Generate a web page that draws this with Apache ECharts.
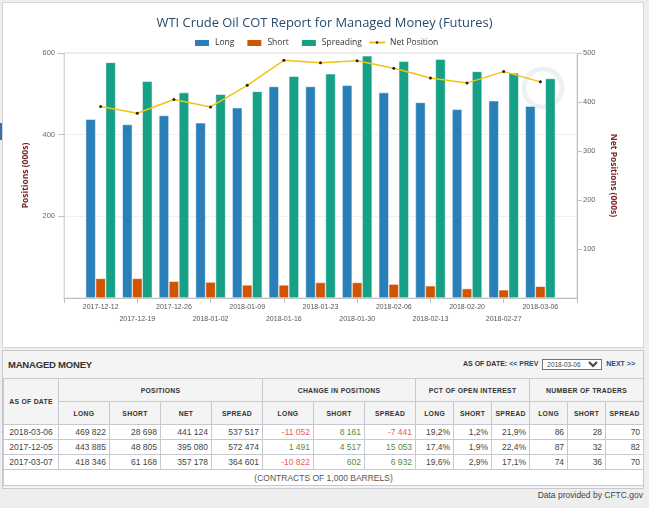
<!DOCTYPE html>
<html>
<head>
<meta charset="utf-8">
<script src="https://cdn.jsdelivr.net/npm/echarts@6/dist/echarts.min.js"></script>
<style>
  html, body { margin: 0; padding: 0; background: #eeeeee; width: 649px; height: 508px; overflow: hidden; font-family: "Liberation Sans", Arial, sans-serif; }
  .panel { position: absolute; left: 2px; top: 2px; width: 640px; height: 344px; background: #fff; border: 1px solid #d6d6d6; }
  #chart { position: absolute; left: 0; top: 0; width: 649px; height: 348px; }
  .tick { position: absolute; left: 0; top: 123px; width: 2px; height: 17px; background: #3a6ea5; }
  .mm { position: absolute; left: 2px; top: 350px; width: 640px; height: 137px; background: #f4f4f4; border: 1px solid #c8c8d0; }
  .mm-head { height: 27px; position: relative; }
  .mm-title { position: absolute; left: 5px; top: 8px; font-size: 9.5px; font-weight: bold; color: #333; letter-spacing: -0.2px; }
  .mm-nav { position: absolute; right: 8px; top: 8px; font-size: 7px; font-weight: bold; color: #2a4a7a; }
  .mm-nav .lbl { color: #333; }
  .mm-nav select { font-size: 6.5px; height: 11px; width: 60px; padding: 0; margin: 0 2px; vertical-align: middle; font-family: "Liberation Sans", Arial, sans-serif; color: #444; background: #fff; }
  table { border-collapse: collapse; width: 640px; table-layout: fixed; background: #fff; }
  td, th { border: 1px solid #c8c8d0; padding: 0 3px; font-size: 8.5px; color: #444; white-space: nowrap; }
  th { background: #f4f4f4; font-size: 6.8px; font-weight: bold; color: #333; letter-spacing: 0.3px; height: 22px; text-align: center; }
  td { height: 14px; text-align: right; }
  td.date { text-align: center; }
  td.neg { color: #f05a5a; }
  td.pos { color: #5b8a3c; }
  td.foot { text-align: center; color: #555; font-size: 8.5px; height: 15px; }
  .credit { position: absolute; right: 6px; top: 490px; font-size: 8.5px; color: #444; }
</style>
</head>
<body>
<div class="panel"></div>
<div class="tick"></div>
<div id="chart"></div>

<div class="mm">
  <div class="mm-head">
    <div class="mm-title">MANAGED MONEY</div>
    <div class="mm-nav"><span class="lbl">AS OF DATE:</span> &lt;&lt; PREV <select><option>2018-03-06</option></select> NEXT &gt;&gt;</div>
  </div>
  <table id="tbl">
    <colgroup>
      <col style="width:55px">
      <col style="width:51px"><col style="width:51px"><col style="width:51px"><col style="width:51px">
      <col style="width:51px"><col style="width:51px"><col style="width:51px">
      <col style="width:38px"><col style="width:38px"><col style="width:38px">
      <col style="width:38px"><col style="width:38px"><col style="width:38px">
    </colgroup>
    <thead>
      <tr>
        <th rowspan="2">AS OF DATE</th>
        <th colspan="4">POSITIONS</th>
        <th colspan="3">CHANGE IN POSITIONS</th>
        <th colspan="3">PCT OF OPEN INTEREST</th>
        <th colspan="3">NUMBER OF TRADERS</th>
      </tr>
      <tr id="subhead"></tr>
    </thead>
    <tbody id="tbody"></tbody>
  </table>
</div>
<div class="credit">Data provided by CFTC.gov</div>

<script>
// 图表数据 (千份合约)
var dates = ["2017-12-12", "2017-12-19", "2017-12-26", "2018-01-02", "2018-01-09", "2018-01-16", "2018-01-23",
             "2018-01-30", "2018-02-06", "2018-02-13", "2018-02-20", "2018-02-27", "2018-03-06"];
var longPos   = [438, 425, 447, 429, 466, 518, 518, 521, 503, 479, 462, 483, 469.8];
var shortPos  = [48, 48, 41, 39, 32, 32, 38, 38, 34, 30, 23, 20, 28.7];
var spreadPos = [577, 531, 503, 499, 506, 543, 549, 593, 580, 585, 555, 551, 537.5];
var netPos    = [391, 377, 405, 390, 434, 485, 480, 484, 469, 449, 439, 462, 441.1];

// 表格数据
var subHeads = ["LONG", "SHORT", "NET", "SPREAD", "LONG", "SHORT", "SPREAD", "LONG", "SHORT", "SPREAD", "LONG", "SHORT", "SPREAD"];
var tableDates = ["2018-03-06", "2017-12-05", "2017-03-07"];
var tablePositions = [
  ["469 822", "28 698", "441 124", "537 517"],
  ["443 885", "48 805", "395 080", "572 474"],
  ["418 346", "61 168", "357 178", "364 601"]
];
var tableChanges = [
  ["-11 052", "8 161", "-7 441"],
  ["1 491", "4 517", "15 053"],
  ["-10 822", "602", "6 932"]
];
var tablePct = [
  ["19,2%", "1,2%", "21,9%"],
  ["17,4%", "1,9%", "22,4%"],
  ["19,6%", "2,9%", "17,1%"]
];
var tableTraders = [
  ["86", "28", "70"],
  ["87", "32", "82"],
  ["74", "36", "70"]
];

// 1. 表格
var sub = document.getElementById("subhead");
subHeads.forEach(function (h) {
  var th = document.createElement("th");
  th.textContent = h;
  sub.appendChild(th);
});
var tbody = document.getElementById("tbody");
tableDates.forEach(function (d, r) {
  var html = '<td class="date">' + d + '</td>';
  tablePositions[r].forEach(function (v) { html += '<td>' + v + '</td>'; });
  tableChanges[r].forEach(function (v) {
    html += '<td class="' + (v.charAt(0) === "-" ? "neg" : "pos") + '">' + v + '</td>';
  });
  tablePct[r].forEach(function (v) { html += '<td>' + v + '</td>'; });
  tableTraders[r].forEach(function (v) { html += '<td>' + v + '</td>'; });
  var tr = document.createElement("tr");
  tr.innerHTML = html;
  tbody.appendChild(tr);
});
var ftr = document.createElement("tr");
ftr.innerHTML = '<td class="foot" colspan="14">(CONTRACTS OF 1,000 BARRELS)</td>';
tbody.appendChild(ftr);

// 2. 图表
var myChart = echarts.init(document.getElementById("chart"));

function pairs(arr) {
  return arr.map(function (v, i) { return [i, v]; });
}

var barCommon = {
  type: "bar",
  barWidth: 10,
  barGap: "0%",
  xAxisIndex: 0,
  yAxisIndex: 0
};

var legendText = { fontFamily: "Open Sans", fontSize: 8.5, color: "#333" };

var option = {
  animation: false,
  textStyle: { fontFamily: "Liberation Sans, Arial, sans-serif" },
  title: {
    text: "WTI Crude Oil COT Report for Managed Money (Futures)",
    left: "center",
    top: 12,
    textStyle: { fontFamily: "Open Sans", fontSize: 12.9, fontWeight: "normal", color: "#274b6d" }
  },
  legend: [
    {
      left: 188,
      top: 33,
      itemWidth: 16,
      itemHeight: 8,
      itemGap: 11,
      textStyle: legendText,
      data: [
        { name: "Long", icon: "rect" },
        { name: "Short", icon: "rect" },
        { name: "Spreading", icon: "rect" }
      ]
    },
    {
      left: 363,
      top: 33,
      itemWidth: 16,
      itemHeight: 3,
      textStyle: legendText,
      data: ["Net Position"]
    }
  ],
  grid: {
    left: 64,
    right: 72,
    top: 53,
    bottom: 50,
    show: true,
    borderColor: "#d8d8d8",
    borderWidth: 1
  },
  xAxis: [
    {
      type: "value",
      min: -1,
      max: 13,
      interval: 1,
      axisLine: { show: true, onZero: false, lineStyle: { color: "#c0c0c0" } },
      axisTick: { show: false },
      splitLine: { show: false },
      axisLabel: {
        fontSize: 7,
        color: "#555",
        margin: 3,
        lineHeight: 12,
        formatter: function (v) {
          var i = Math.round(v);
          if (i !== v || i < 0 || i >= dates.length) return "";
          return i % 2 ? "\n" + dates[i] : dates[i];
        }
      }
    },
    {
      type: "value",
      position: "bottom",
      min: -1,
      max: 13,
      interval: 2,
      axisLine: { show: false, onZero: false },
      axisTick: { show: true, length: 5, lineStyle: { color: "#c0c0c0" } },
      axisLabel: { show: false },
      splitLine: { show: false }
    }
  ],
  yAxis: [
    {
      type: "value",
      position: "left",
      min: 0,
      max: 600,
      interval: 200,
      name: "Positions (000s)",
      nameLocation: "middle",
      nameGap: 34,
      nameTextStyle: { fontFamily: "Open Sans", fontSize: 8.5, fontWeight: "bold", color: "#7a2424" },
      axisLine: { show: true, onZero: false, lineStyle: { color: "#d8d8d8" } },
      axisTick: { show: true, length: 6, lineStyle: { color: "#c0c0c0" } },
      splitLine: { lineStyle: { color: "#efefef" } },
      axisLabel: { fontSize: 7.5, color: "#666", margin: 9, showMinLabel: false }
    },
    {
      type: "value",
      position: "right",
      min: 0,
      max: 500,
      interval: 100,
      name: "Net Positions (000s)",
      nameLocation: "middle",
      nameRotate: -90,
      nameGap: 32,
      nameTextStyle: { fontFamily: "Open Sans", fontSize: 8.5, fontWeight: "bold", color: "#7a2424" },
      axisLine: { show: true, onZero: false, lineStyle: { color: "#c0c0c0" } },
      axisTick: { show: true, length: 5, lineStyle: { color: "#c0c0c0" } },
      splitLine: { show: false },
      axisLabel: { fontSize: 7.5, color: "#666", margin: 6, showMinLabel: false }
    }
  ],
  graphic: [
    {
      type: "circle",
      shape: { cx: 543, cy: 88, r: 19 },
      style: { fill: "none", stroke: "#eef1f4", lineWidth: 5 },
      silent: true,
      z: -1
    }
  ],
  series: [
    Object.assign({}, barCommon, {
      name: "Long",
      data: pairs(longPos),
      itemStyle: { color: "#2980b9", borderColor: "#fff", borderWidth: 0.5 }
    }),
    Object.assign({}, barCommon, {
      name: "Short",
      data: pairs(shortPos),
      itemStyle: { color: "#d35400", borderColor: "#fff", borderWidth: 0.5 }
    }),
    Object.assign({}, barCommon, {
      name: "Spreading",
      data: pairs(spreadPos),
      itemStyle: { color: "#16a085", borderColor: "#fff", borderWidth: 0.5 }
    }),
    {
      name: "Net Position",
      type: "line",
      xAxisIndex: 0,
      yAxisIndex: 1,
      data: pairs(netPos),
      symbol: "circle",
      symbolSize: 3,
      lineStyle: { color: "#f1c40f", width: 1.5 },
      itemStyle: { color: "#222" },
      z: 5
    }
  ]
};

myChart.setOption(option);
</script>
</body>
</html>
